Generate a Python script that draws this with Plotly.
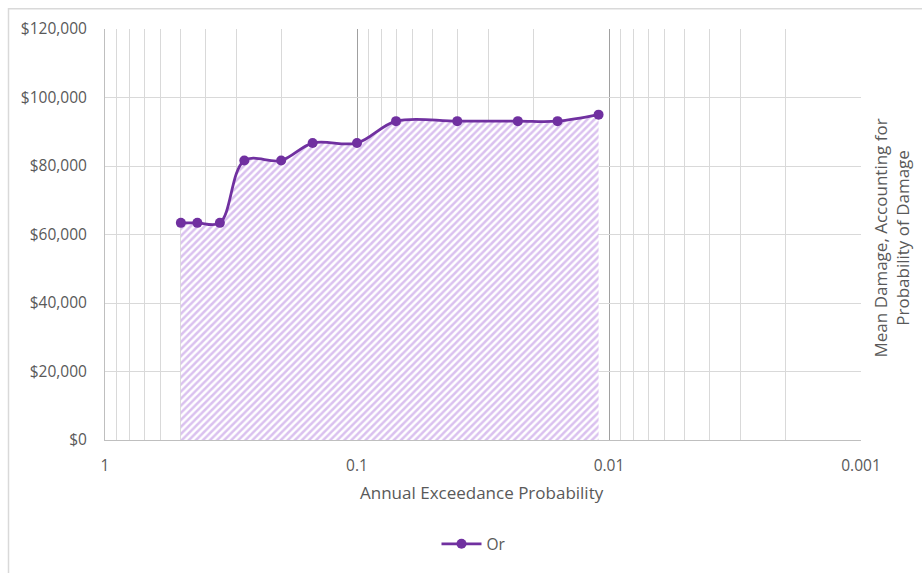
import plotly.graph_objects as go

# Annual exceedance probability and mean damage for the "Or" series
aep = [0.5, 0.43, 0.35, 0.28, 0.2, 0.15, 0.1, 0.07, 0.04, 0.023, 0.016, 0.011]
damage = [63400, 63400, 63400, 81600, 81600, 86700, 86700, 93100, 93100, 93100, 93100, 95000]
series_name = "Or"

x_major = [1, 0.1, 0.01, 0.001]
x_major_text = ["1", "0.1", "0.01", "0.001"]
x_minor = [m * d for d in (0.1, 0.01, 0.001) for m in range(2, 10)]

W, H = 922, 573
L, R, T, B = 105, 61, 29, 130
PW, PH = W - L - R, H - T - B


def px_x(p):
    return (p - L) / PW


def px_y(p):
    return 1 - (p - T) / PH


PURPLE = "#7030a0"
TEXT = "#595959"
FONT = "Open Sans"
TICK_SIZE = 15.5
TITLE_SIZE = 17

fig = go.Figure()

# hatched area under the curve
fig.add_trace(go.Scatter(
    x=aep, y=damage, mode="lines",
    line=dict(shape="spline", width=0, color="rgba(0,0,0,0)"),
    fill="tozeroy",
    fillcolor="rgba(0,0,0,0)",
    fillpattern=dict(shape="/", fgcolor="#b584e0", bgcolor="white",
                     size=5, solidity=0.5),
    showlegend=False, hoverinfo="skip",
))

# smoothed line with markers
fig.add_trace(go.Scatter(
    x=aep, y=damage, mode="lines+markers", name=series_name,
    line=dict(shape="spline", width=2.75, color=PURPLE),
    marker=dict(size=10, color=PURPLE),
))

fig.update_layout(
    width=W, height=H,
    margin=dict(l=L, r=R, t=T, b=B),
    paper_bgcolor="white", plot_bgcolor="white",
    font=dict(family=FONT, size=TICK_SIZE, color=TEXT),
    showlegend=True,
    legend=dict(orientation="h", x=px_x(474), xanchor="center",
                y=px_y(548), yanchor="middle", itemwidth=40,
                font=dict(family=FONT, size=TICK_SIZE, color=TEXT)),
    xaxis=dict(
        type="log", range=[0, -3],
        tickvals=x_major, ticktext=x_major_text,
        showgrid=True, gridcolor="#a0a0a0", gridwidth=1,
        minor=dict(tickvals=x_minor, showgrid=True,
                   gridcolor="#d9d9d9", gridwidth=1, ticks=""),
        showline=True, linecolor="#bfbfbf", linewidth=1,
        ticks="", ticklabelstandoff=11,
        zeroline=False,
        tickfont=dict(family=FONT, size=TICK_SIZE, color=TEXT),
    ),
    yaxis=dict(
        range=[0, 120000], dtick=20000, tickformat="$,.0f",
        showgrid=True, gridcolor="#d9d9d9", gridwidth=1,
        showline=True, linecolor="#bfbfbf", linewidth=1,
        ticks="", ticklabelstandoff=14, zeroline=False,
        tickfont=dict(family=FONT, size=TICK_SIZE, color=TEXT),
    ),
    annotations=[
        dict(text="Annual Exceedance Probability", xref="paper", yref="paper",
             x=px_x(482), y=px_y(496), xanchor="center", yanchor="middle",
             showarrow=False, font=dict(family=FONT, size=TITLE_SIZE, color=TEXT)),
        dict(text="Mean Damage, Accounting for<br>Probability of Damage",
             xref="paper", yref="paper", textangle=-90,
             x=px_x(891), y=px_y(240), xanchor="center", yanchor="middle",
             showarrow=False, font=dict(family=FONT, size=TITLE_SIZE, color=TEXT)),
    ],
    shapes=[
        dict(type="rect", xref="paper", yref="paper",
             x0=px_x(8.5), x1=px_x(940), y0=px_y(8.5), y1=px_y(600),
             line=dict(color="#d9d9d9", width=1.5), fillcolor="rgba(0,0,0,0)",
             layer="below"),
    ],
)

fig.write_html("out.html")
